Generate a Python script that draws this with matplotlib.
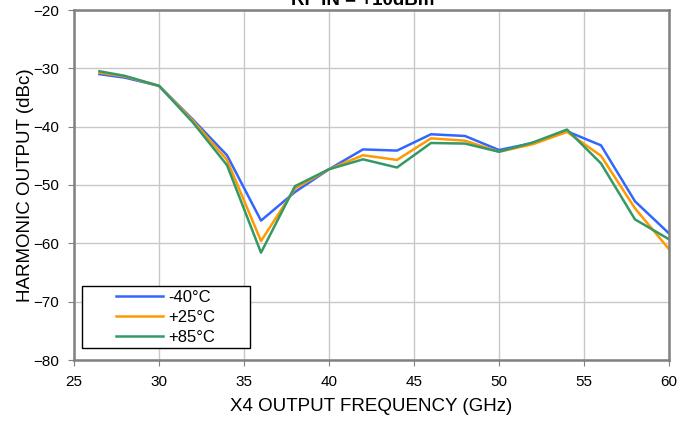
import matplotlib
matplotlib.use("Agg")
import matplotlib.pyplot as plt
from matplotlib.patches import Rectangle

freq = [26.5, 28, 30, 32, 34, 36, 38, 40, 42, 44, 46, 48, 50, 52, 54, 56, 58, 60]
m40 = [-31.0, -31.6, -33.0, -38.8, -44.9, -56.1, -51.2, -47.3, -43.9, -44.1, -41.3, -41.6, -44.0, -42.8, -40.8, -43.2, -52.8, -58.3]
p25 = [-30.75, -31.4, -33.0, -39.0, -45.7, -59.6, -50.6, -47.3, -44.9, -45.7, -42.0, -42.4, -44.3, -43.0, -40.9, -45.0, -54.0, -61.0]
p85 = [-30.5, -31.3, -33.0, -39.3, -46.6, -61.6, -50.2, -47.3, -45.6, -47.0, -42.8, -42.9, -44.3, -42.7, -40.5, -46.3, -55.9, -59.3]
labels = ["-40°C", "+25°C", "+85°C"]
colors = ["#3366FF", "#FF9900", "#339966"]
xticks = [25, 30, 35, 40, 45, 50, 55, 60]
yticks = [-80, -70, -60, -50, -40, -30, -20]

plt.rcParams['font.family'] = ['Liberation Sans', 'DejaVu Sans']

W, H = 694, 423
fig = plt.figure(figsize=(W/100, H/100), dpi=100)
ax = fig.add_axes([74/W, 1-360/H, (669-74)/W, (360-10)/H])

handles = []
for ys, lab, c in zip([m40, p25, p85], labels, colors):
    h, = ax.plot(freq, ys, color=c, lw=1.8, label=lab)
    handles.append(h)

ax.set_xlim(25, 60)
ax.set_ylim(-80, -20)
ax.set_xticks(xticks)
ax.set_yticks(yticks)
ax.grid(True, color="#C8C8C8", lw=1)
ax.set_axisbelow(True)
for s in ax.spines.values():
    s.set_color("#808080")
    s.set_linewidth(1.8)
ax.tick_params(direction='out', length=4, color="#808080", labelsize=11, pad=7)
ax.set_xlabel("X4 OUTPUT FREQUENCY (GHz)", fontsize=13.5, labelpad=6)
ax.set_ylabel("HARMONIC OUTPUT (dBc)", fontsize=13.5, labelpad=-1)

fig.text(0.523, 1 - 5/H, "RF IN = +10dBm", ha='center', va='baseline', fontsize=13.5, fontweight='bold')

box = Rectangle((82/W, 1-348/H), 168/W, 62/H, transform=fig.transFigure,
                facecolor='white', edgecolor='#000000', lw=1, zorder=3)
fig.patches.append(box)

leg = fig.legend(handles, labels, loc='upper left', bbox_to_anchor=(116/W, 1-290/H),
                 bbox_transform=fig.transFigure, fontsize=12, frameon=False,
                 borderaxespad=0, borderpad=0, handlelength=2.82, handletextpad=0.3,
                 labelspacing=0.3)
leg.set_zorder(5)

fig.savefig("out.png", dpi=100)
